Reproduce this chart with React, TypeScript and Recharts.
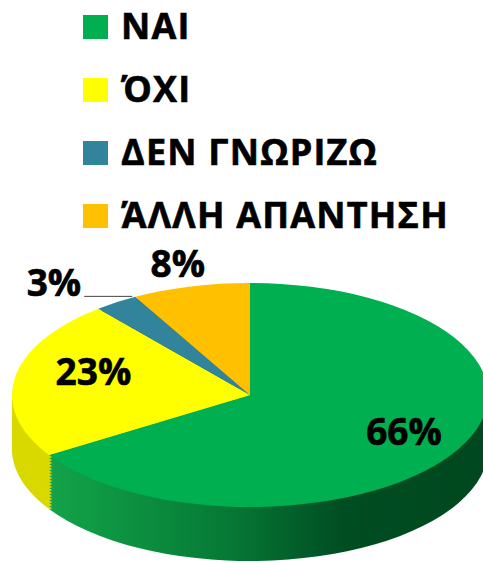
import { PieChart, Pie, Cell } from "recharts";

// survey answers
const categories = ["ΝΑΙ", "ΌΧΙ", "ΔΕΝ ΓΝΩΡΙΖΩ", "ΆΛΛΗ ΑΠΑΝΤΗΣΗ"];
const shares = [66, 23, 3, 8];
const topColors = ["#00b050", "#ffff00", "#31849b", "#ffc000"];
const sideColors = ["url(#sideGreen)", "#d9d900", "#256577", "#d9a200"];

const data = categories.map((name, i) => ({ name, value: shares[i] }));

const W = 483;
const H = 563;
const CX = 250;
const CY = 395;
const RX = 238;
const RY = 112;
const SQUASH = RY / RX;
const DEPTH = 54;
// offsets of the stacked copies that make the rim
const rimOffsets = Array.from({ length: 18 }, (_, i) => DEPTH - i * 3);

const FONT = "'Open Sans', 'Noto Sans', sans-serif";

const renderLabel = (p: any) => {
  const a = (-p.midAngle * Math.PI) / 180;
  const cos = Math.cos(a);
  const sin = Math.sin(a);
  const txt = `${p.value}%`;
  const common = {
    fontFamily: FONT,
    fontWeight: 700,
    fontSize: 37,
    fill: "#000",
    stroke: "#000",
    strokeWidth: 0.6,
  };
  if (p.value >= 20) {
    // inside labels, nudged for the tilted view
    const x = p.cx + 8 + RX * 0.7 * cos;
    const y = p.cy - 10 + RY * 0.85 * sin;
    return (
      <text x={x} y={y} textAnchor="middle" dominantBaseline="central" {...common}>
        {txt}
      </text>
    );
  }
  if (p.value >= 5) {
    const x = p.cx + RX * 1.22 * cos;
    const y = p.cy + RY * 1.22 * sin;
    return (
      <text x={x} y={y} textAnchor="middle" dominantBaseline="central" {...common}>
        {txt}
      </text>
    );
  }
  const rx = p.cx + RX * cos + 16;
  const ry = p.cy + RY * sin - 6;
  return (
    <g>
      <line x1={rx} y1={ry} x2={rx - 48} y2={ry} stroke="#444" strokeWidth={1} />
      <text x={rx - 51} y={ry} textAnchor="end" {...common}>
        {txt}
      </text>
    </g>
  );
};

export default function App() {
  return (
    <div style={{ position: "absolute", left: 0, top: 0, width: W, height: H, overflow: "hidden", background: "#fff" }}>
      <svg width={0} height={0} style={{ position: "absolute" }}>
        <defs>
          <linearGradient id="sideGreen" x1="0" y1="0" x2="1" y2="0">
            <stop offset="0" stopColor="#14a24a" />
            <stop offset="0.1" stopColor="#0f9a44" />
            <stop offset="0.4" stopColor="#067a36" />
            <stop offset="0.67" stopColor="#004d22" />
            <stop offset="1" stopColor="#00481f" />
          </linearGradient>
        </defs>
      </svg>

      <div
        style={{
          position: "absolute",
          left: 0,
          top: 0,
          width: W,
          height: H / SQUASH,
          transform: `scaleY(${SQUASH})`,
          transformOrigin: "0 0",
        }}
      >
        <PieChart width={W} height={H / SQUASH} margin={{ top: 0, right: 0, bottom: 0, left: 0 }}>
          {rimOffsets.map((d) => (
            <Pie
              key={d}
              data={data}
              dataKey="value"
              cx={CX}
              cy={(CY + d) / SQUASH}
              outerRadius={RX}
              startAngle={90}
              endAngle={-270}
              stroke="none"
              isAnimationActive={false}
            >
              {data.map((_, i) => (
                <Cell key={i} fill={sideColors[i]} />
              ))}
            </Pie>
          ))}
          <Pie
            data={data}
            dataKey="value"
            cx={CX}
            cy={CY / SQUASH}
            outerRadius={RX}
            startAngle={90}
            endAngle={-270}
            stroke="none"
            isAnimationActive={false}
          >
            {data.map((_, i) => (
              <Cell key={i} fill={topColors[i]} />
            ))}
          </Pie>
        </PieChart>
      </div>

      <div style={{ position: "absolute", left: 0, top: 0 }}>
        <PieChart width={W} height={H} margin={{ top: 0, right: 0, bottom: 0, left: 0 }}>
          <Pie
            data={data}
            dataKey="value"
            cx={CX}
            cy={CY}
            outerRadius={RX}
            startAngle={90}
            endAngle={-270}
            fill="transparent"
            stroke="none"
            label={renderLabel}
            labelLine={false}
            isAnimationActive={false}
          >
            {data.map((_, i) => (
              <Cell key={i} fill="transparent" />
            ))}
          </Pie>
        </PieChart>
      </div>

      <svg width={W} height={240} style={{ position: "absolute", left: 0, top: 0 }}>
        {categories.map((c, i) => (
          <g key={c}>
            <rect x={83} y={15 + i * 63} width={25} height={24} fill={topColors[i]} />
            <text
              x={121}
              y={39 + i * 63}
              fontFamily={FONT}
              fontWeight={700}
              fontSize={36}
              letterSpacing={1.2}
              fill="#000"
              stroke="#000"
              strokeWidth={0.6}
            >
              {c}
            </text>
          </g>
        ))}
      </svg>
    </div>
  );
}
